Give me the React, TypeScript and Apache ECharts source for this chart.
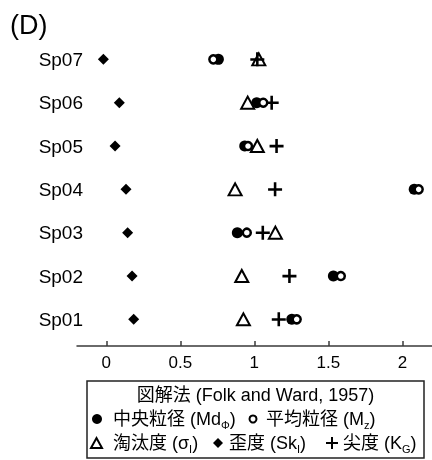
import React, { useEffect, useRef } from 'react';
import * as echarts from 'echarts';

const samples = ['Sp01', 'Sp02', 'Sp03', 'Sp04', 'Sp05', 'Sp06', 'Sp07'];
const medianMd = [1.253, 1.534, 0.885, 2.08, 0.935, 1.016, 0.757];
const meanMz = [1.286, 1.584, 0.949, 2.11, 0.957, 1.06, 0.723];
const sortingSigma = [0.926, 0.915, 1.142, 0.87, 1.02, 0.955, 1.03];
const skewnessSk = [0.185, 0.174, 0.144, 0.133, 0.059, 0.088, -0.02];
const kurtosisKG = [1.165, 1.237, 1.057, 1.14, 1.15, 1.117, 1.02];
const xTicks = [0, 0.5, 1, 1.5, 2];

const FONT = '"Liberation Sans", Arial, "Noto Sans CJK JP", sans-serif';
const PLUS = 'path://M0,5L12,5L12,7.2L0,7.2Z M4.9,0L7.1,0L7.1,12L4.9,12Z';

const toData = (vals: number[]) => vals.map((v, i) => [v, samples[i]]);

const rich = {
  n: { fontSize: 18, fontFamily: FONT, fill: '#000', lineHeight: 22, verticalAlign: 'middle' },
  s: { fontSize: 11, fontFamily: FONT, fill: '#000', lineHeight: 12, verticalAlign: 'bottom' },
};

export default function App() {
  const ref = useRef<HTMLDivElement>(null);
  useEffect(() => {
    const chart = echarts.init(ref.current!, null, { renderer: 'svg' });
    const rowY1 = 395, rowY2 = 419, rowY3 = 443;
    const txt = (x: number, y: number, text: string, align = 'left') => ({
      type: 'text', x, y, z: 10,
      style: { text, rich, align, verticalAlign: 'middle', fontFamily: FONT, fontSize: 18, fill: '#000' },
    });
    chart.setOption({
      animation: false,
      grid: { left: 77, top: 37.7, width: 355, height: 303.3, containLabel: false },
      xAxis: {
        type: 'value', min: -0.198, max: 2.2, offset: 5,
        axisLine: { show: true, lineStyle: { color: '#3a3a3a', width: 1.5 } },
        axisTick: { show: true, inside: true, length: 5, customValues: xTicks, lineStyle: { color: '#3a3a3a', width: 1.5 } },
        axisLabel: { customValues: xTicks, fontSize: 17, color: '#000', margin: 8, fontFamily: FONT, formatter: (v: number) => String(v) },
        splitLine: { show: false },
      },
      yAxis: {
        type: 'category', data: samples,
        axisLine: { show: false }, axisTick: { show: false }, splitLine: { show: false },
        axisLabel: { fontSize: 19, color: '#000', margin: -6, padding: [6, 0, 0, 0], fontFamily: FONT },
      },
      series: [
        { type: 'scatter', name: 'Sk', symbol: 'diamond', symbolSize: 11, itemStyle: { color: '#000', opacity: 1 }, data: toData(skewnessSk), silent: true },
        { type: 'scatter', name: 'sigma', symbol: 'triangle', symbolSize: [13, 12], itemStyle: { color: '#fff', borderColor: '#000', borderWidth: 2, opacity: 1 }, data: toData(sortingSigma), silent: true },
        { type: 'scatter', name: 'KG', symbol: PLUS, symbolSize: 14, itemStyle: { color: '#000', opacity: 1 }, data: toData(kurtosisKG), silent: true },
        { type: 'scatter', name: 'Md', symbol: 'circle', symbolSize: 11, itemStyle: { color: '#000', opacity: 1 }, data: toData(medianMd), silent: true },
        { type: 'scatter', name: 'Mz', symbol: 'circle', symbolSize: 8, itemStyle: { color: '#fff', borderColor: '#000', borderWidth: 2.5, opacity: 1 }, data: toData(meanMz), silent: true },
      ],
      graphic: [
        { type: 'text', x: 10, y: 25, style: { text: '(D)', fontSize: 27, fontFamily: FONT, fill: '#000', verticalAlign: 'middle' } },
        { type: 'rect', shape: { x: 87, y: 381, width: 337, height: 77 }, style: { fill: '#fff', stroke: '#222', lineWidth: 1.5 } },
        txt(255.5, rowY1, '{n|図解法 (Folk and Ward, 1957)}', 'center'),
        { type: 'circle', z: 10, shape: { cx: 97, cy: rowY2, r: 5 }, style: { fill: '#000' } },
        txt(113, rowY2, '{n|中央粒径 (Md}{s|Φ}{n|)}'),
        { type: 'circle', z: 10, shape: { cx: 253, cy: rowY2, r: 3.5 }, style: { fill: '#fff', stroke: '#000', lineWidth: 2 } },
        txt(266, rowY2, '{n|平均粒径 (M}{s|z}{n|)}'),
        { type: 'polygon', z: 10, shape: { points: [[91, rowY3 + 5], [102, rowY3 + 5], [96.5, rowY3 - 5]] }, style: { fill: '#fff', stroke: '#000', lineWidth: 2 } },
        txt(113, rowY3, '{n|淘汰度 (σ}{s|I}{n|)}'),
        { type: 'polygon', z: 10, shape: { points: [[218, rowY3 - 5], [223, rowY3], [218, rowY3 + 5], [213, rowY3]] }, style: { fill: '#000' } },
        txt(229, rowY3, '{n|歪度 (Sk}{s|I}{n|)}'),
        { type: 'line', z: 10, shape: { x1: 326, y1: rowY3, x2: 338, y2: rowY3 }, style: { stroke: '#000', lineWidth: 2 } },
        { type: 'line', z: 10, shape: { x1: 332, y1: rowY3 - 6, x2: 332, y2: rowY3 + 6 }, style: { stroke: '#000', lineWidth: 2 } },
        txt(343, rowY3, '{n|尖度 (K}{s|G}{n|)}'),
      ],
    });
    return () => chart.dispose();
  }, []);
  return <div ref={ref} style={{ position: 'fixed', left: 0, top: 0, width: 432, height: 460 }} />;
}
